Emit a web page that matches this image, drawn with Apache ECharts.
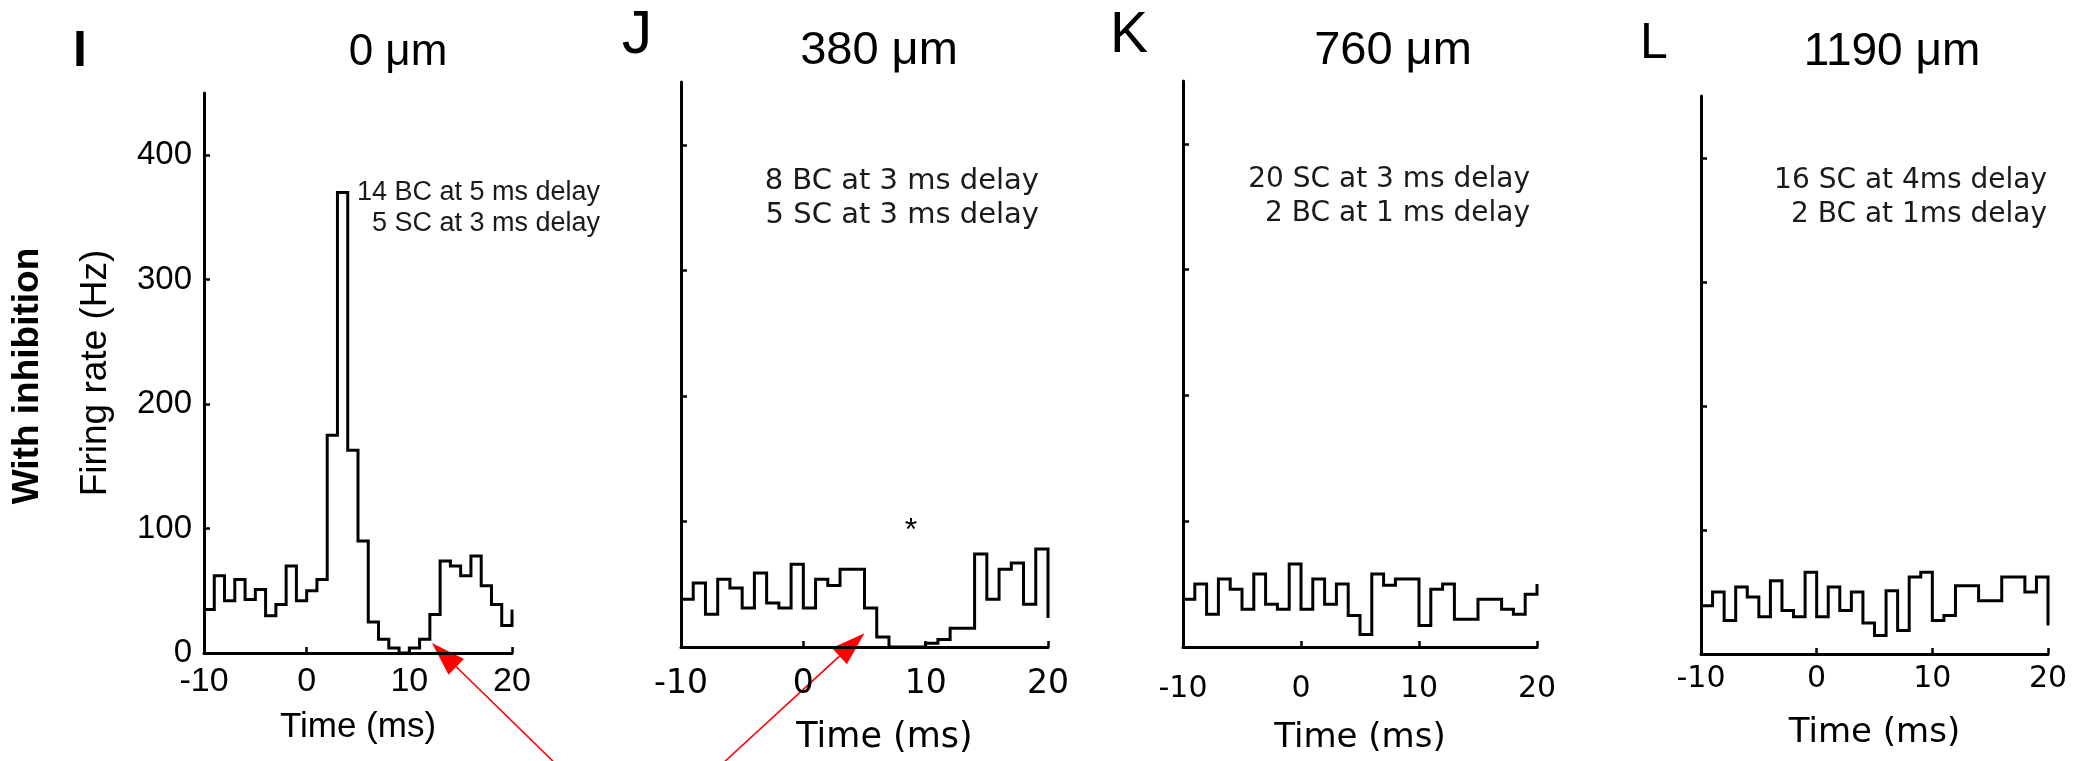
<!DOCTYPE html>
<html>
<head>
<meta charset="utf-8">
<script src="https://cdn.jsdelivr.net/npm/echarts@6/dist/echarts.min.js"></script>
<style>
html,body{margin:0;padding:0;background:#fff;}
#c{width:2080px;height:761px;}
</style>
</head>
<body>
<div id="c"></div>
<script>
// ---------- data ----------
const timeEdges = [-10,-9,-8,-7,-6,-5,-4,-3,-2,-1,0,1,2,3,4,5,6,7,8,9,10,11,12,13,14,15,16,17,18,19,20];
const rateI = [35,62,42,59,43,51,30,39,70,42,50,59,175,370,163,90,25,11,4,0,4,11,31,74,70,62,78,54,39,22,35];
const rateJ = [38,51,26,54,47,31,59,35,31,66,31,54,49,62,62,31,8,0,0,0,3,6,15,15,74,38,62,67,34,78,23];
const rateK = [38,50,26,54,46,30,58,34,30,66,30,54,34,50,25,10,58,49,54,54,17,46,50,22,22,38,38,30,26,42,50];
const rateL = [39,50,27,54,46,30,59,35,30,66,30,54,35,50,25,15,51,19,62,66,27,31,55,55,43,43,62,62,50,62,23];
const xTickLabels = [-10,0,10,20];
const xTickMarks = [0,10,20];
const yTickLabels = [0,100,200,300,400];
const yTickMarks = [100,200,300,400];
const panelTitles = ['0 \u03bcm','380 \u03bcm','760 \u03bcm','1190 \u03bcm'];
const panelLetters = ['I','J','K','L'];
const annotations = [
  ['14 BC at 5 ms delay','5 SC at 3 ms delay'],
  ['8 BC at 3 ms delay','5 SC at 3 ms delay'],
  ['20 SC at 3 ms delay','2 BC at 1 ms delay'],
  ['16 SC at 4ms delay','2 BC at 1ms delay']
];
const rowLabel = 'With inhibition';
const yName = 'Firing rate (Hz)';
const xName = 'Time (ms)';
const asteriskJ = [8.8, 98];
// arrows: [panel index, tail (data units), tip (data units)]
const arrowPanels = [0, 1];
const arrowTails = [[24.0, -87], [-6.4, -91]];
const arrowTips = [[12.2, 8], [5.0, 11]];

// ---------- layout ----------
const series = [rateI, rateJ, rateK, rateL];
const grids = [
  {left:204, top:93, width:308, height:560},
  {left:681, top:82, width:367, height:565},
  {left:1183, top:81, width:354, height:566},
  {left:1701, top:96, width:347, height:558}
];
const ARIAL = 'Liberation Sans';
const DEJAVU = 'DejaVu Sans';
const tickFont = [
  {f:ARIAL, s:34, m:12},
  {f:DEJAVU, s:33, m:21},
  {f:DEJAVU, s:30, m:27},
  {f:DEJAVU, s:30, m:10}
];
const nameCfg = [
  {f:ARIAL, s:35, gap:57, pad:[0,0,0,0]},
  {f:DEJAVU, s:35, gap:73, pad:[0,0,0,40]},
  {f:DEJAVU, s:34, gap:74, pad:[0,0,0,0]},
  {f:DEJAVU, s:34, gap:62, pad:[0,0,0,0]}
];
const titlePos = [
  {x:398, y:53, s:44},
  {x:879, y:51, s:47},
  {x:1393, y:51, s:47},
  {x:1892, y:52, s:46}
];
const letterPos = [
  {x:80, y:52, s:50, w:'bold'},
  {x:637, y:36, s:61, w:'normal'},
  {x:1129, y:36, s:57, w:'normal'},
  {x:1654, y:44, s:50, w:'normal'}
];
const annoPos = [
  {x:600, y1:193, y2:224, f:ARIAL, s:27},
  {x:1039, y1:181, y2:215, f:DEJAVU, s:29},
  {x:1530, y1:180, y2:214, f:DEJAVU, s:28},
  {x:2047, y1:181, y2:215, f:DEJAVU, s:28}
];

const xAxes = [], yAxes = [], seriesList = [];
for (let i = 0; i < 4; i++) {
  xAxes.push({
    gridIndex:i, type:'value', min:-10, max:20, interval:10,
    axisLine:{show:true, onZero:false, lineStyle:{color:'#000', width:3}},
    axisTick:{show:true, inside:true, length:6, customValues:xTickMarks, lineStyle:{color:'#000', width:2.5}},
    axisLabel:{show:true, customValues:xTickLabels, color:'#000', fontFamily:tickFont[i].f, fontSize:tickFont[i].s, margin:tickFont[i].m},
    splitLine:{show:false},
    name:xName, nameLocation:'middle', nameGap:nameCfg[i].gap,
    nameTextStyle:{color:'#000', fontFamily:nameCfg[i].f, fontSize:nameCfg[i].s, padding:nameCfg[i].pad}
  });
  yAxes.push({
    gridIndex:i, type:'value', min:0, max:450, interval:100,
    axisLine:{show:true, onZero:false, lineStyle:{color:'#000', width:3}},
    axisTick:{show:true, inside:true, length:6, customValues:yTickMarks, lineStyle:{color:'#000', width:2.5}},
    axisLabel:{show:i===0, customValues:yTickLabels, color:'#000', fontFamily:ARIAL, fontSize:33, margin:12},
    splitLine:{show:false}
  });
  seriesList.push({
    type:'line', xAxisIndex:i, yAxisIndex:i, step:'end',
    symbol:'none', showSymbol:false, silent:true,
    lineStyle:{color:'#000', width:3, join:'miter'},
    data: timeEdges.map((t, k) => [t, series[i][k]])
  });
}

const chart = echarts.init(document.getElementById('c'), null, {renderer:'canvas'});
chart.setOption({
  animation:false,
  backgroundColor:'#fff',
  grid: grids,
  xAxis: xAxes,
  yAxis: yAxes,
  series: seriesList
});

// ---------- texts & annotations ----------
const g = [];
for (let i = 0; i < 4; i++) {
  g.push({type:'text', x:titlePos[i].x, y:titlePos[i].y,
    style:{text:panelTitles[i], fill:'#000', font:'normal ' + titlePos[i].s + 'px "' + ARIAL + '"', align:'center', verticalAlign:'middle'}});
  g.push({type:'text', x:letterPos[i].x, y:letterPos[i].y,
    style:{text:panelLetters[i], fill:'#000', font:letterPos[i].w + ' ' + letterPos[i].s + 'px "' + ARIAL + '"', align:'center', verticalAlign:'middle'}});
  const a = annoPos[i];
  g.push({type:'text', x:a.x, y:a.y1,
    style:{text:annotations[i][0], fill:'#1a1a1a', font:'normal ' + a.s + 'px "' + a.f + '"', align:'right', verticalAlign:'middle'}});
  g.push({type:'text', x:a.x, y:a.y2,
    style:{text:annotations[i][1], fill:'#1a1a1a', font:'normal ' + a.s + 'px "' + a.f + '"', align:'right', verticalAlign:'middle'}});
}
g.push({type:'text', x:28, y:376, rotation:Math.PI/2,
  style:{text:rowLabel, fill:'#000', font:'bold 37px "' + ARIAL + '"', align:'center', verticalAlign:'middle'}});
g.push({type:'text', x:96, y:373, rotation:Math.PI/2,
  style:{text:yName, fill:'#000', font:'normal 37px "' + ARIAL + '"', align:'center', verticalAlign:'middle'}});

// asterisk (panel J)
const ap = chart.convertToPixel({gridIndex:1}, asteriskJ);
g.push({type:'text', x:ap[0], y:ap[1] + 7,
  style:{text:'*', fill:'#000', font:'normal 32px "' + ARIAL + '"', align:'center', verticalAlign:'middle'}});

// red arrows
for (let k = 0; k < arrowTips.length; k++) {
  const S = chart.convertToPixel({gridIndex:arrowPanels[k]}, arrowTails[k]);
  const T = chart.convertToPixel({gridIndex:arrowPanels[k]}, arrowTips[k]);
  const dx = T[0] - S[0], dy = T[1] - S[1];
  const len = Math.sqrt(dx*dx + dy*dy);
  const ux = dx/len, uy = dy/len;
  const L = 34, W = 11;
  const bx = T[0] - ux*L, by = T[1] - uy*L;
  g.push({type:'line', shape:{x1:S[0], y1:S[1], x2:bx, y2:by}, style:{stroke:'#ff0000', lineWidth:1.6}});
  g.push({type:'polygon', shape:{points:[[T[0],T[1]],[bx - uy*W, by + ux*W],[bx + uy*W, by - ux*W]]}, style:{fill:'#ff0000'}});
}
chart.setOption({graphic: g});
</script>
</body>
</html>
